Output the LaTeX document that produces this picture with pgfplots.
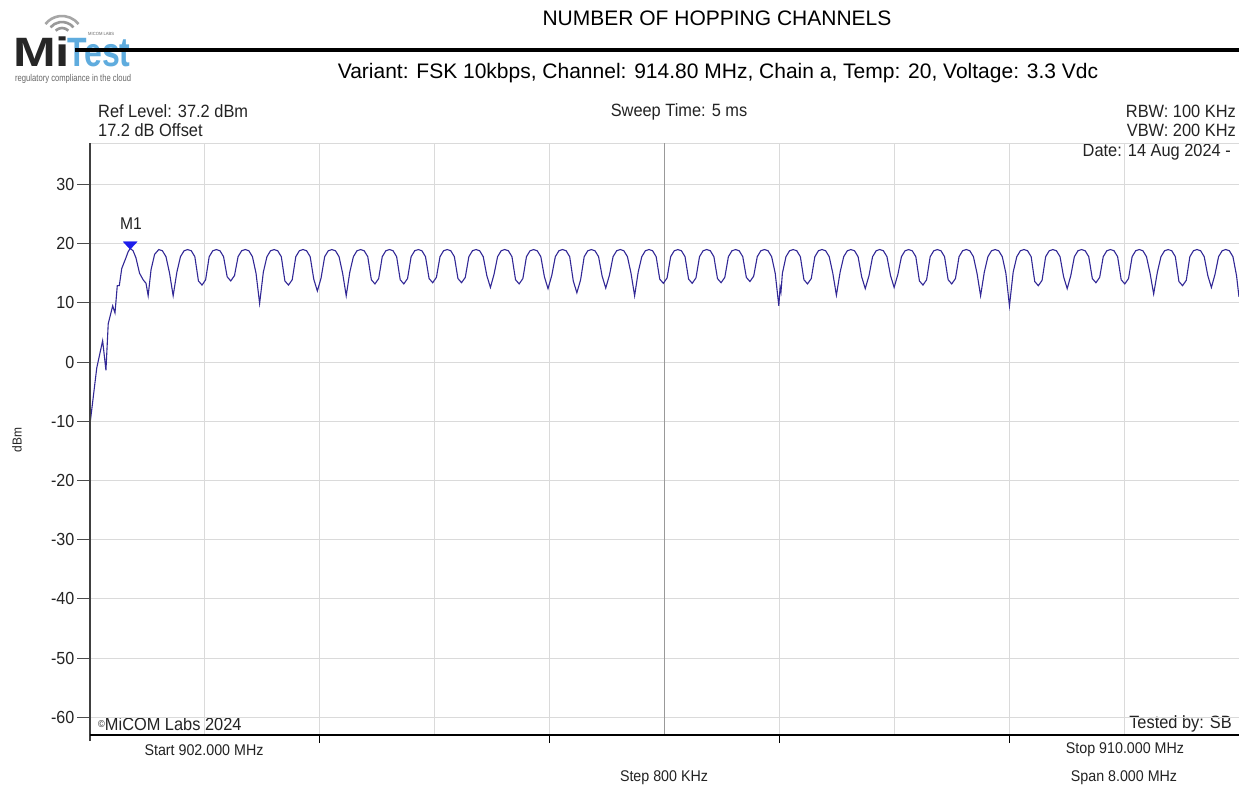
\documentclass[border=0pt]{standalone}
\usepackage{pgfplots}
\pgfplotsset{compat=1.18}
\usepackage{pgfplotstable}
\usepackage{fontspec}
\setmainfont{Liberation Sans}
\newfontfamily\narrowfont[FakeStretch=0.92]{Liberation Sans}
\newfontfamily\logofont[FakeStretch=0.78]{Liberation Sans}
\newfontfamily\logowide[FakeStretch=1.25]{Liberation Sans}
\definecolor{trace}{RGB}{50,40,150}
\definecolor{gridc}{RGB}{218,218,218}
\definecolor{txt}{RGB}{35,35,35}
\definecolor{logoblue}{RGB}{95,172,222}
\definecolor{mkblue}{RGB}{30,30,235}

\pgfplotstableread[row sep=\\]{
f dbm \\
902.000 -10.5 \\ 902.047 -1.0 \\ 902.088 3.6 \\ 902.111 -1.4 \\ 902.127 6.5 \\ 902.158 9.5 \\ 902.174 8.3 \\
902.190 12.9 \\ 902.204 12.9 \\ 902.221 15.8 \\ 902.250 17.6 \\ 902.265 18.6 \\ 902.280 19.2 \\ 902.300 18.8 \\
902.320 17.6 \\ 902.345 15.0 \\ 902.370 13.9 \\ 902.390 13.3 \\
902.405 11.2 \\ 902.425 15.6 \\ 902.450 18.2 \\ 902.479 19.0 \\ 902.504 18.8 \\ 902.529 17.8 \\ 902.554 15.0 \\ 902.579 11.2 \\
902.605 15.2 \\ 902.630 17.8 \\ 902.655 18.8 \\ 902.680 19.0 \\ 902.705 18.8 \\ 902.730 17.8 \\ 902.755 13.7 \\ 902.780 13.0 \\
902.805 13.9 \\ 902.830 17.8 \\ 902.855 18.8 \\ 902.880 19.0 \\ 902.905 18.8 \\ 902.930 17.8 \\ 902.955 14.4 \\ 902.980 13.7 \\
903.006 14.6 \\ 903.031 17.8 \\ 903.056 18.8 \\ 903.081 19.0 \\ 903.106 18.8 \\ 903.131 17.8 \\ 903.156 15.0 \\ 903.181 9.9 \\
903.207 15.2 \\ 903.232 17.8 \\ 903.257 18.8 \\ 903.282 19.0 \\ 903.307 18.8 \\ 903.332 17.8 \\ 903.357 13.7 \\ 903.382 13.0 \\
903.408 13.9 \\ 903.433 17.8 \\ 903.458 18.8 \\ 903.483 19.0 \\ 903.508 18.8 \\ 903.533 17.8 \\ 903.558 14.0 \\ 903.583 12.0 \\
903.609 14.2 \\ 903.634 17.8 \\ 903.659 18.8 \\ 903.684 19.0 \\ 903.709 18.8 \\ 903.734 17.8 \\ 903.759 15.0 \\ 903.784 11.2 \\
903.809 15.2 \\ 903.834 17.8 \\ 903.859 18.8 \\ 903.884 19.0 \\ 903.909 18.8 \\ 903.934 17.8 \\ 903.959 13.9 \\ 903.984 13.2 \\
904.010 14.1 \\ 904.035 17.8 \\ 904.060 18.8 \\ 904.085 19.0 \\ 904.110 18.8 \\ 904.135 17.8 \\ 904.160 13.9 \\ 904.185 13.2 \\
904.211 14.1 \\ 904.236 17.8 \\ 904.261 18.8 \\ 904.286 19.0 \\ 904.311 18.8 \\ 904.336 17.8 \\ 904.361 14.1 \\ 904.386 13.4 \\
904.412 14.3 \\ 904.437 17.8 \\ 904.462 18.8 \\ 904.487 19.0 \\ 904.512 18.8 \\ 904.537 17.8 \\ 904.562 14.1 \\ 904.587 13.4 \\
904.613 14.3 \\ 904.638 17.8 \\ 904.663 18.8 \\ 904.688 19.0 \\ 904.713 18.8 \\ 904.738 17.8 \\ 904.763 14.6 \\ 904.788 12.6 \\
904.813 14.8 \\ 904.838 17.8 \\ 904.863 18.8 \\ 904.888 19.0 \\ 904.913 18.8 \\ 904.938 17.8 \\ 904.963 13.9 \\ 904.988 13.2 \\
905.014 14.1 \\ 905.039 17.8 \\ 905.064 18.8 \\ 905.089 19.0 \\ 905.114 18.8 \\ 905.139 17.8 \\ 905.164 14.4 \\ 905.189 12.4 \\
905.215 14.6 \\ 905.240 17.8 \\ 905.265 18.8 \\ 905.290 19.0 \\ 905.315 18.8 \\ 905.340 17.8 \\ 905.365 13.7 \\ 905.390 11.7 \\
905.416 13.9 \\ 905.441 17.8 \\ 905.466 18.8 \\ 905.491 19.0 \\ 905.516 18.8 \\ 905.541 17.8 \\ 905.566 14.5 \\ 905.591 12.5 \\
905.617 14.7 \\ 905.642 17.8 \\ 905.667 18.8 \\ 905.692 19.0 \\ 905.717 18.8 \\ 905.742 17.8 \\ 905.767 15.0 \\ 905.792 11.2 \\
905.817 15.2 \\ 905.842 17.8 \\ 905.867 18.8 \\ 905.892 19.0 \\ 905.917 18.8 \\ 905.942 17.8 \\ 905.967 14.0 \\ 905.992 13.3 \\
906.018 14.2 \\ 906.043 17.8 \\ 906.068 18.8 \\ 906.093 19.0 \\ 906.118 18.8 \\ 906.143 17.8 \\ 906.168 14.0 \\ 906.193 13.3 \\
906.219 14.2 \\ 906.244 17.8 \\ 906.269 18.8 \\ 906.294 19.0 \\ 906.319 18.8 \\ 906.344 17.8 \\ 906.369 14.1 \\ 906.394 13.4 \\
906.420 14.3 \\ 906.445 17.8 \\ 906.470 18.8 \\ 906.495 19.0 \\ 906.520 18.8 \\ 906.545 17.8 \\ 906.570 14.3 \\ 906.595 13.6 \\
906.621 14.5 \\ 906.646 17.8 \\ 906.671 18.8 \\ 906.696 19.0 \\ 906.721 18.8 \\ 906.746 17.8 \\ 906.771 15.0 \\ 906.796 9.5 \\ 906.805 12.6 \\ 906.811 11.8 \\
906.821 15.0 \\ 906.846 17.8 \\ 906.871 18.8 \\ 906.896 19.0 \\ 906.921 18.8 \\ 906.946 17.8 \\ 906.971 13.9 \\ 906.996 13.2 \\
907.022 14.1 \\ 907.047 17.8 \\ 907.072 18.8 \\ 907.097 19.0 \\ 907.122 18.8 \\ 907.147 17.8 \\ 907.172 15.0 \\ 907.197 11.3 \\
907.223 15.2 \\ 907.248 17.8 \\ 907.273 18.8 \\ 907.298 19.0 \\ 907.323 18.8 \\ 907.348 17.8 \\ 907.373 14.4 \\ 907.398 12.4 \\
907.424 14.6 \\ 907.449 17.8 \\ 907.474 18.8 \\ 907.499 19.0 \\ 907.524 18.8 \\ 907.549 17.8 \\ 907.574 14.6 \\ 907.599 12.6 \\
907.625 14.8 \\ 907.650 17.8 \\ 907.675 18.8 \\ 907.700 19.0 \\ 907.725 18.8 \\ 907.750 17.8 \\ 907.775 13.7 \\ 907.800 13.0 \\
907.825 13.9 \\ 907.850 17.8 \\ 907.875 18.8 \\ 907.900 19.0 \\ 907.925 18.8 \\ 907.950 17.8 \\ 907.975 13.9 \\ 908.000 13.2 \\
908.026 14.1 \\ 908.051 17.8 \\ 908.076 18.8 \\ 908.101 19.0 \\ 908.126 18.8 \\ 908.151 17.8 \\ 908.176 15.0 \\ 908.201 11.2 \\
908.227 15.2 \\ 908.252 17.8 \\ 908.277 18.8 \\ 908.302 19.0 \\ 908.327 18.8 \\ 908.352 17.8 \\ 908.377 15.0 \\ 908.402 9.5 \\
908.428 15.2 \\ 908.453 17.8 \\ 908.478 18.8 \\ 908.503 19.0 \\ 908.528 18.8 \\ 908.553 17.8 \\ 908.578 13.6 \\ 908.603 12.9 \\
908.629 13.8 \\ 908.654 17.8 \\ 908.679 18.8 \\ 908.704 19.0 \\ 908.729 18.8 \\ 908.754 17.8 \\ 908.779 14.4 \\ 908.804 12.4 \\
908.829 14.6 \\ 908.854 17.8 \\ 908.879 18.8 \\ 908.904 19.0 \\ 908.929 18.8 \\ 908.954 17.8 \\ 908.979 14.1 \\ 909.004 13.4 \\
909.030 14.3 \\ 909.055 17.8 \\ 909.080 18.8 \\ 909.105 19.0 \\ 909.130 18.8 \\ 909.155 17.8 \\ 909.180 13.9 \\ 909.205 13.2 \\
909.231 14.1 \\ 909.256 17.8 \\ 909.281 18.8 \\ 909.306 19.0 \\ 909.331 18.8 \\ 909.356 17.8 \\ 909.381 15.0 \\ 909.406 11.5 \\
909.432 15.2 \\ 909.457 17.8 \\ 909.482 18.8 \\ 909.507 19.0 \\ 909.532 18.8 \\ 909.557 17.8 \\ 909.582 13.6 \\ 909.607 12.9 \\
909.633 13.8 \\ 909.658 17.8 \\ 909.683 18.8 \\ 909.708 19.0 \\ 909.733 18.8 \\ 909.758 17.8 \\ 909.783 14.6 \\ 909.808 12.6 \\
909.833 14.8 \\ 909.858 17.8 \\ 909.883 18.8 \\ 909.908 19.0 \\ 909.933 18.8 \\ 909.958 17.8 \\ 909.983 14.6 \\ 910.000 11.0 \\
}\tracedata

\begin{document}
\begin{tikzpicture}
\useasboundingbox[fill=white] (0pt,0pt) rectangle (1239pt,-786pt);

\begin{scope}[x=1pt,y=1pt]
% logo
\draw[black!40, line width=2.6pt] (62,-37) ++(45:9pt) arc[start angle=45, end angle=135, radius=9pt];
\draw[black!40, line width=2.6pt] (62,-37) ++(40:15pt) arc[start angle=40, end angle=140, radius=15pt];
\draw[black!35, line width=2.6pt] (62,-37) ++(38:21pt) arc[start angle=38, end angle=142, radius=21pt];
\node[anchor=base west, inner sep=0, text height=29pt, text depth=0pt, font=\logowide\bfseries\fontsize{41}{41}\selectfont, text=black!85] at (13,-67) {Mi};
\node[anchor=base west, inner sep=0, text height=29pt, text depth=0pt, font=\logofont\bfseries\fontsize{41}{41}\selectfont, text=logoblue] at (67,-67) {Test};
\node[anchor=west, inner sep=0, font=\narrowfont\fontsize{4.5}{5}\selectfont, text=black!60] at (88,-33.5) {MICOM LABS};
\node[anchor=west, inner sep=0, font=\logofont\fontsize{9.8}{10}\selectfont, text=black!60] at (15,-78.5) {regulatory compliance in the cloud};
\draw[black, line width=3.5pt] (75,-50) -- (1239,-50);

% titles
\node[font=\fontsize{21}{23}\selectfont, text=black] at (717,-18) {NUMBER OF HOPPING CHANNELS};
\node[font=\fontsize{21}{23}\selectfont, text=black] at (718,-73) {Variant: FSK 10kbps, Channel: 914.80 MHz, Chain a, Temp: 20, Voltage: 3.3 Vdc};

% info texts
\begin{scope}[every node/.style={inner sep=0, font=\narrowfont\fontsize{17.8}{18}\selectfont, text=txt}]
\node[anchor=west] at (98,-111) {Ref Level: 37.2 dBm};
\node[anchor=west] at (98,-130) {17.2 dB Offset};
\node at (679,-112) {Sweep Time: 5 ms};
\node[anchor=east] at (1236,-111) {RBW: 100 KHz};
\node[anchor=east] at (1236,-130) {VBW: 200 KHz};
\node[anchor=east] at (1231,-152.5) {Date: 14 Aug 2024 -};
\node[anchor=west] at (98,-724) {\raisebox{2.5pt}{\fontsize{10}{10}\selectfont\textcopyright}MiCOM Labs 2024};
\node[anchor=east] at (1232,-724) {Tested by: SB};
\end{scope}
\begin{scope}[every node/.style={inner sep=0, font=\narrowfont\fontsize{15.5}{16}\selectfont, text=txt}]
\node at (204,-750) {Start 902.000 MHz};
\node at (1125,-750) {Stop 910.000 MHz};
\node at (664,-778) {Step 800 KHz};
\node at (1124,-778) {Span 8.000 MHz};
\end{scope}
\node[rotate=90, inner sep=0, font=\narrowfont\fontsize{13}{13}\selectfont, text=txt] at (17,-440) {dBm};
\end{scope}

\begin{axis}[
  at={(90pt,-735pt)}, anchor=south west, scale only axis,
  width=1149pt, height=592pt,
  xmin=902, xmax=910, ymin=-63, ymax=37,
  axis line style={draw=none},
  xtick={902.8,903.6,904.4,905.2,906.0,906.8,907.6,908.4,909.2},
  xticklabels={},
  xtick pos=bottom, ytick pos=left,
  xtick style={draw=none},
  extra x ticks={903.6,905.2,906.8,908.4},
  extra x tick labels={},
  extra x tick style={grid=none, xtick style={draw=black, line width=1.2pt}, major tick length=8pt},
  ytick={-60,-50,-40,-30,-20,-10,0,10,20,30},
  yticklabels={-60,-50,-40,-30,-20,-10,0,10,20,30},
  tick align=outside,
  major tick length=13pt,
  ytick style={draw=black!70, line width=1pt},
  grid=major,
  major grid style={gridc, line width=1pt},
  yticklabel style={font=\narrowfont\fontsize{17.5}{18}\selectfont, text=txt, inner sep=2.5pt},
  clip=false,
]
\draw[gridc, line width=1pt] (axis cs:902,37) -- (axis cs:910,37);
\draw[black!40, line width=1pt] (axis cs:906,-63) -- (axis cs:906,37);
\addplot[trace, line width=1.1pt] table[x=f, y=dbm] {\tracedata};
\addplot[only marks, mark=triangle*, mark size=5pt, mark options={rotate=180, xscale=1.6, fill=mkblue, draw=mkblue}] coordinates {(902.280,19.9)};
\node[inner sep=0, font=\narrowfont\fontsize{17}{17}\selectfont, text=txt] at (axis cs:902.285,23.3) {M1};
\draw[black!75, line width=2pt] (axis cs:902,-63) ++(0pt,-6pt) -- (axis cs:902,37);
\draw[black, line width=2pt] (axis cs:902,-63) -- (axis cs:910,-63);
\end{axis}
\end{tikzpicture}
\end{document}
